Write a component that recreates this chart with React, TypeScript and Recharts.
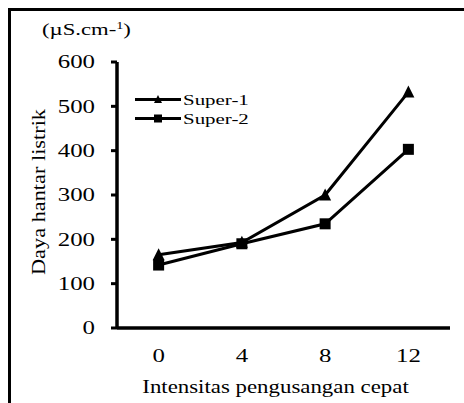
import { LineChart, Line, XAxis, YAxis, Legend, Label } from "recharts";

const categories = [0, 4, 8, 12];
const super1 = [165, 193, 300, 532];
const super2 = [142, 190, 235, 403];
const yTicks = [0, 100, 200, 300, 400, 500, 600];
const xBoundaries = [-2, 2, 6, 10, 14];
const seriesNames = ["Super-1", "Super-2"];
const yTitle = "Daya hantar listrik";
const xTitle = "Intensitas pengusangan cepat";

const data = categories.map((c, i) => ({ x: c, s1: super1[i], s2: super2[i] }));

const FONT = "'Liberation Serif', 'Times New Roman', serif";
const INK = "#000";

// text stretched along its writing direction (the source image is wide-set)
function StretchText({ x, y, sx, size, anchor, rotate = 0, dy, children }: any) {
  return (
    <g transform={`translate(${x},${y}) rotate(${rotate}) scale(${sx},1)`}>
      <text x={0} y={0} dy={dy} textAnchor={anchor} fontFamily={FONT} fontSize={size} fill={INK}>
        {children}
      </text>
    </g>
  );
}

const XTick = ({ x, y, payload }: any) => (
  <StretchText x={x} y={y} sx={1.38} size={18} anchor="middle" dy="0.71em">
    {payload.value}
  </StretchText>
);

const YTick = ({ x, y, payload }: any) => (
  <StretchText x={x} y={y} sx={1.38} size={18} anchor="end" dy="0.355em">
    {payload.value}
  </StretchText>
);

const Triangle = ({ cx, cy, s = 12 }: any) => (
  <polygon
    points={`${cx},${cy - s * 0.55} ${cx + s / 2},${cy + s * 0.45} ${cx - s / 2},${cy + s * 0.45}`}
    fill={INK}
  />
);

const Square = ({ cx, cy, s = 11 }: any) => (
  <rect x={cx - s / 2} y={cy - s / 2} width={s} height={s} fill={INK} />
);

const XTitle = ({ viewBox }: any) => (
  <StretchText x={viewBox.x + viewBox.width / 2 - 8} y={viewBox.y + 64} sx={1.27} size={18} anchor="middle">
    {xTitle}
  </StretchText>
);

const YTitle = ({ viewBox }: any) => (
  <StretchText x={viewBox.x - 12} y={viewBox.y + viewBox.height / 2 - 3} sx={1.24} size={18} anchor="middle" rotate={-90}>
    {yTitle}
  </StretchText>
);

const UnitLabel = ({ viewBox }: any) => (
  <g transform={`translate(${viewBox.x - 15},${viewBox.y - 27}) scale(1.42,1)`}>
    <text x={0} y={0} fontFamily={FONT} fontSize={16} fill={INK}>
      (µS.cm-<tspan dy={-6} fontSize={10}>1</tspan>
      <tspan dy={6}>)</tspan>
    </text>
  </g>
);

const LegendContent = ({ payload }: any) => (
  <div style={{ fontFamily: FONT, color: INK }}>
    {(payload || []).map((item: any, i: number) => (
      <div key={item.value} style={{ display: "flex", alignItems: "center", height: 19 }}>
        <svg width={46} height={19} style={{ display: "block" }}>
          <line x1={0} x2={46} y1={9.5} y2={9.5} stroke={INK} strokeWidth={3} />
          {i === 0 ? <Triangle cx={23} cy={9.5} s={8} /> : <Square cx={23} cy={9.5} s={8} />}
        </svg>
        <span
          style={{
            fontSize: 15.5,
            display: "inline-block",
            transform: "scaleX(1.35)",
            transformOrigin: "left center",
            marginLeft: 2,
            whiteSpace: "nowrap",
          }}
        >
          {item.value}
        </span>
      </div>
    ))}
  </div>
);

export default function App() {
  return (
    <div style={{ position: "fixed", left: 0, top: 0, width: 464, height: 403, overflow: "hidden", background: "#fff" }}>
      <div style={{ position: "absolute", left: 0, top: 0 }}>
        <LineChart width={464} height={403} data={data} margin={{ top: 62, right: 14, left: 57, bottom: 8 }}>
          <XAxis
            xAxisId="b"
            type="number"
            dataKey="x"
            domain={[-2, 14]}
            ticks={categories}
            tick={<XTick />}
            tickLine={false}
            axisLine={false}
            tickSize={0}
            tickMargin={20}
            height={66}
          >
            <Label content={XTitle} />
          </XAxis>
          <XAxis
            xAxisId="a"
            type="number"
            dataKey="x"
            domain={[-2, 14]}
            ticks={xBoundaries}
            tick={false}
            tickSize={6}
            height={1}
            stroke={INK}
            strokeWidth={3.5}
            axisLine={{ stroke: INK, strokeWidth: 3.5 }}
            tickLine={{ stroke: INK, strokeWidth: 3 }}
          />
          <YAxis
            domain={[0, 600]}
            ticks={yTicks}
            width={60}
            tickSize={6}
            tickMargin={16}
            tick={<YTick />}
            stroke={INK}
            strokeWidth={3.5}
            axisLine={{ stroke: INK, strokeWidth: 3.5 }}
            tickLine={{ stroke: INK, strokeWidth: 3 }}
          >
            <Label content={YTitle} />
            <Label content={UnitLabel} />
          </YAxis>
          <Legend
            layout="horizontal"
            verticalAlign="middle"
            align="center"
            content={<LegendContent />}
            wrapperStyle={{ position: "absolute", left: 135, top: 90, width: "auto" }}
          />
          <Line
            xAxisId="b"
            dataKey="s1"
            name={seriesNames[0]}
            stroke={INK}
            strokeWidth={3}
            dot={(p: any) => <Triangle key={`t${p.index}`} cx={p.cx} cy={p.cy} />}
            isAnimationActive={false}
          />
          <Line
            xAxisId="b"
            dataKey="s2"
            name={seriesNames[1]}
            stroke={INK}
            strokeWidth={3}
            dot={(p: any) => <Square key={`s${p.index}`} cx={p.cx} cy={p.cy} />}
            isAnimationActive={false}
          />
        </LineChart>
      </div>
      <div style={{ position: "absolute", left: 8, top: 8, width: 456, height: 3, background: INK }} />
      <div style={{ position: "absolute", left: 8, top: 8, width: 3, height: 395, background: INK }} />
    </div>
  );
}
